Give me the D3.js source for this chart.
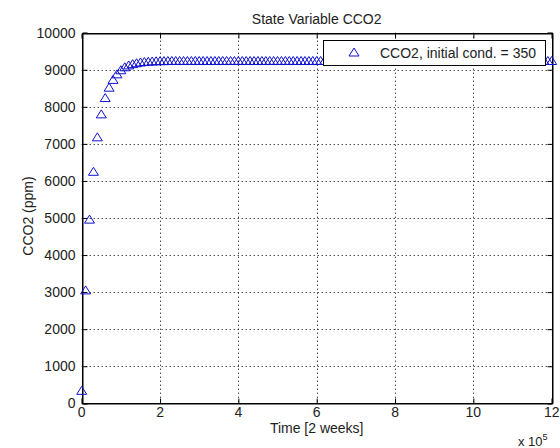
<!DOCTYPE html>
<html>
<head>
<meta charset="utf-8">
<script src="https://cdn.jsdelivr.net/npm/d3@7"></script>
<style>
  html, body { margin: 0; padding: 0; background: #fff; }
  svg { display: block; }
  text { font-family: "Liberation Sans", Arial, sans-serif; fill: #222; }
</style>
</head>
<body>
<svg id="chart" width="560" height="448"></svg>
<script>
// ---- data (time in units of 1e4 "2 weeks"; CCO2 in ppm) ----
const timeSteps = [
  0,1,2,3,4,5,6,7,8,9,10,11,12,13,14,15,16,17,18,19,
  20,21,22,23,24,25,26,27,28,29,30,31,32,33,34,35,36,37,38,39,
  40,41,42,43,44,45,46,47,48,49,50,51,52,53,54,55,56,57,58,59,
  60,61,62,63,64,65,66,67,68,69,70,71,72,73,74,75,76,77,78,79,
  80,81,82,83,84,85,86,87,88,89,90,91,92,93,94,95,96,97,98,99,
  100,101,102,103,104,105,106,107,108,109,110,111,112,113,114,115,116,117,118,119,
  120
];
const cco2Values = [
  350,3060,4970,6260,7190,7810,8250,8530,8740,8890,9000,9080,9130,9165,9190,9210,9222,9230,9237,9242,
  9245,9247,9249,9250,9250,9250,9250,9250,9250,9250,9250,9250,9250,9250,9250,9250,9250,9250,9250,9250,
  9250,9250,9250,9250,9250,9250,9250,9250,9250,9250,9250,9250,9250,9250,9250,9250,9250,9250,9250,9250,
  9250,9250,9250,9250,9250,9250,9250,9250,9250,9250,9250,9250,9250,9250,9250,9250,9250,9250,9250,9250,
  9250,9250,9250,9250,9250,9250,9250,9250,9250,9250,9250,9250,9250,9250,9250,9250,9250,9250,9250,9250,
  9250,9250,9250,9250,9250,9250,9250,9250,9250,9250,9250,9250,9250,9250,9250,9250,9250,9250,9250,9250,
  9250
];
const xTickValues = [0,2,4,6,8,10,12];           // in units of 1e5
const yTickValues = [0,1000,2000,3000,4000,5000,6000,7000,8000,9000,10000];
const titleText = "State Variable CCO2";
const xLabelText = "Time [2 weeks]";
const yLabelText = "CCO2 (ppm)";
const legendText = "CCO2, initial cond. = 350";

// ---- layout ----
const svg = d3.select("#chart");
const L = 81.7, R = 551.7, T = 32.7, B = 403.3;
const x = d3.scaleLinear().domain([0, 12]).range([L, R]);
const y = d3.scaleLinear().domain([0, 10000]).range([B, T]);
const blue = "#1010d0";

// grid
const grid = svg.append("g").attr("stroke", "#000").attr("stroke-width", 1)
  .attr("stroke-dasharray", "1,3").attr("fill", "none");
xTickValues.slice(1, -1).forEach(v => {
  grid.append("line").attr("x1", Math.round(x(v)) + 0.5).attr("x2", Math.round(x(v)) + 0.5)
    .attr("y1", T).attr("y2", B);
});
yTickValues.slice(1, -1).forEach(v => {
  grid.append("line").attr("y1", Math.round(y(v)) + 0.5).attr("y2", Math.round(y(v)) + 0.5)
    .attr("x1", L).attr("x2", R);
});

// axes (ticks inside, MATLAB style)
const tickLen = 5;
const fmtY = d3.format("d");
const axL = svg.append("g").attr("transform", `translate(${Math.round(L)+0.5},0)`)
  .call(d3.axisRight(y).tickValues(yTickValues).tickSize(tickLen).tickFormat(""));
const axR = svg.append("g").attr("transform", `translate(${Math.round(R)+0.5},0)`)
  .call(d3.axisLeft(y).tickValues(yTickValues).tickSize(tickLen).tickFormat(""));
const axB = svg.append("g").attr("transform", `translate(0,${Math.round(B)+0.5})`)
  .call(d3.axisTop(x).tickValues(xTickValues).tickSize(tickLen).tickFormat(""));
const axT = svg.append("g").attr("transform", `translate(0,${Math.round(T)+0.5})`)
  .call(d3.axisBottom(x).tickValues(xTickValues).tickSize(tickLen).tickFormat(""));
[axL, axR, axB, axT].forEach(a => {
  a.selectAll("path.domain").attr("stroke", "#000").attr("stroke-width", 1);
  a.selectAll("line").attr("stroke", "#000");
});
// clean box edges
svg.append("rect").attr("x", Math.round(L)+0.5).attr("y", Math.round(T)+0.5)
  .attr("width", Math.round(R) - Math.round(L)).attr("height", Math.round(B) - Math.round(T))
  .attr("fill", "none").attr("stroke", "#000").attr("stroke-width", 1);

// tick labels
svg.append("g").selectAll("text").data(yTickValues).join("text")
  .attr("x", 75.5).attr("y", d => y(d)).attr("dy", "0.36em")
  .attr("text-anchor", "end").attr("font-size", 14).text(d => fmtY(d));
svg.append("g").selectAll("text").data(xTickValues).join("text")
  .attr("x", d => x(d)).attr("y", 416.5)
  .attr("text-anchor", "middle").attr("font-size", 14).text(d => d);

// exponent
const ex = svg.append("text").attr("x", 518).attr("y", 445.5).attr("font-size", 13);
ex.append("tspan").text("x 10");
ex.append("tspan").attr("dy", -6).attr("font-size", 9).text("5");

// titles
svg.append("text").attr("x", (L + R) / 2).attr("y", 23.5).attr("text-anchor", "middle")
  .attr("font-size", 14).text(titleText);
svg.append("text").attr("x", (L + R) / 2).attr("y", 432.5).attr("text-anchor", "middle")
  .attr("font-size", 14).text(xLabelText);
svg.append("text").attr("transform", `translate(33,216) rotate(-90)`).attr("text-anchor", "middle")
  .attr("font-size", 14).text(yLabelText);

// markers (triangles)
const tri = (cx, cy) => {
  const w = 5, h = 4;
  return `M${cx},${cy - h}L${cx + w},${cy + h}L${cx - w},${cy + h}Z`;
};
const points = timeSteps.map((t, i) => ({ t: t / 10, v: cco2Values[i] }));
svg.append("g").selectAll("path").data(points).join("path")
  .attr("d", d => tri(x(d.t), y(d.v)))
  .attr("fill", "none").attr("stroke", blue).attr("stroke-width", 1);

// legend
const lg = svg.append("g");
lg.append("rect").attr("x", 323.5).attr("y", 40.5).attr("width", 222).attr("height", 25)
  .attr("fill", "#fff").attr("stroke", "#000").attr("stroke-width", 1);
lg.append("path").attr("d", tri(354, 52)).attr("fill", "none").attr("stroke", blue);
lg.append("text").attr("x", 380).attr("y", 53).attr("dy", "0.36em").attr("font-size", 14)
  .text(legendText);
</script>
</body>
</html>
